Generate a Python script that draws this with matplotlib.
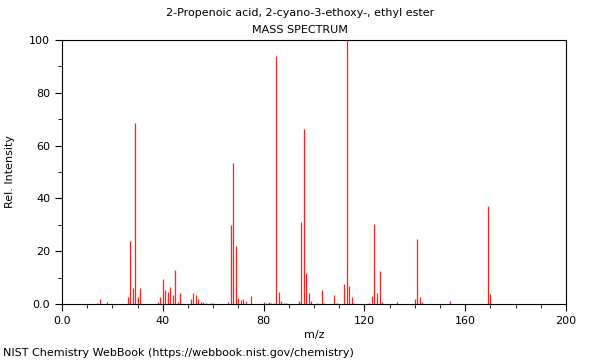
import matplotlib
matplotlib.use("Agg")
import matplotlib.pyplot as plt
from matplotlib.ticker import MultipleLocator, FixedLocator, FixedFormatter

title = "2-Propenoic acid, 2-cyano-3-ethoxy-, ethyl ester"
subtitle = "MASS SPECTRUM"
footer = "NIST Chemistry WebBook (https://webbook.nist.gov/chemistry)"

mz = [14, 15, 18, 26, 27, 28, 29, 30, 31, 38, 39, 40, 41, 42, 43, 44, 45, 46, 47,
      51, 52, 53, 54, 55, 56, 57, 59, 60, 66, 67, 68, 69, 70, 71, 72, 73, 75,
      80, 81, 82, 83, 84, 85, 86, 87, 88, 89, 94, 95, 96, 97, 98, 99, 101, 103, 104,
      108, 109, 112, 113, 114, 115, 116, 122, 123, 124, 125, 126, 127, 133,
      140, 141, 142, 143, 154, 169, 170]
intensity = [0.5, 1.9, 0.9, 2.8, 24.0, 6.2, 68.4, 2.7, 6.0, 0.9, 2.7, 9.4, 5.4, 4.7, 6.5, 3.3, 12.8, 0.9, 4.1,
             1.9, 4.3, 3.3, 1.9, 0.9, 0.8, 0.5, 0.3, 0.3, 0.8, 30.0, 53.3, 22.0, 2.2, 1.5, 1.9, 1.0, 3.0,
             0.9, 0.3, 0.8, 0.4, 0.4, 94.0, 4.7, 1.1, 0.4, 0.2, 1.0, 31.2, 66.2, 11.7, 4.2, 1.1, 0.3, 5.3, 0.3,
             3.3, 0.3, 7.7, 100.0, 6.7, 2.8, 0.4, 0.5, 3.0, 30.3, 4.3, 12.4, 0.9, 0.6,
             2.0, 24.8, 2.5, 0.8, 1.1, 37.3, 3.8]

x_ticks = [0, 40, 80, 120, 160, 200]
x_labels = ["0.0", "40", "80", "120", "160", "200"]
y_ticks = [0, 20, 40, 60, 80, 100]
y_labels = ["0.0", "20", "40", "60", "80", "100"]

fig = plt.figure(figsize=(6, 3.6), dpi=100)
ax = fig.add_axes([62/600, 56/360, 504/600, 264/360])
ax.vlines(mz, 0, intensity, color="#ff2020", lw=0.9)
ax.set_xlim(0, 200)
ax.set_ylim(0, 100)
ax.xaxis.set_major_locator(FixedLocator(x_ticks))
ax.xaxis.set_major_formatter(FixedFormatter(x_labels))
ax.yaxis.set_major_locator(FixedLocator(y_ticks))
ax.yaxis.set_major_formatter(FixedFormatter(y_labels))
ax.xaxis.set_minor_locator(MultipleLocator(10))
ax.yaxis.set_minor_locator(MultipleLocator(10))
ax.tick_params(which="major", length=5, width=0.8, labelsize=8, direction="out")
ax.tick_params(which="minor", length=3, width=0.6, direction="out")
for s in ax.spines.values():
    s.set_linewidth(0.8)
ax.set_xlabel("m/z", fontsize=8, labelpad=3)
ax.set_ylabel("Rel. Intensity", fontsize=8, labelpad=10)
fig.text(0.5, 1 - 13/360, title, ha="center", va="center", fontsize=8)
fig.text(0.5, 1 - 30/360, subtitle, ha="center", va="center", fontsize=8)
fig.text(3/600, 1 - 353/360, footer, ha="left", va="center", fontsize=8)
fig.savefig("out.png", dpi=100)
